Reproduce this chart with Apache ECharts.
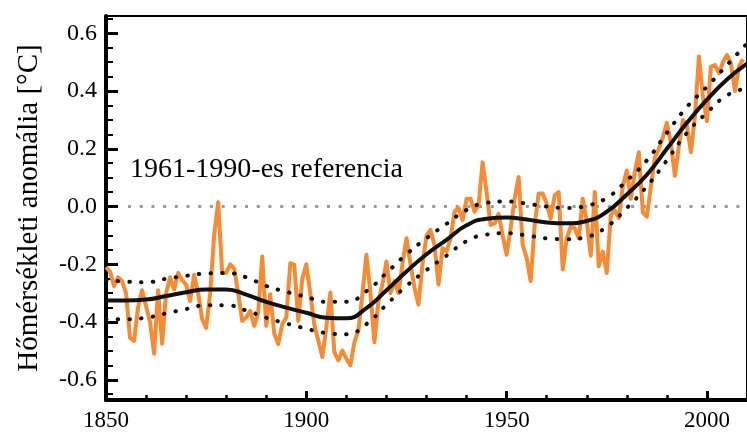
<!DOCTYPE html>
<html>
<head>
<meta charset="utf-8">
<script src="https://cdn.jsdelivr.net/npm/echarts@6/dist/echarts.min.js"></script>
<style>
  html, body { margin: 0; padding: 0; background: #fff; }
  #chart { width: 747px; height: 432px; }
</style>
</head>
<body>
<div id="chart"></div>
<script>
// yearly anomaly, 1850 .. 2009
var firstYear = 1850
var anomaly = [
  -0.21, -0.225, -0.275, -0.245, -0.258, -0.30, -0.455, -0.465, -0.35, -0.29,
  -0.345, -0.40, -0.51, -0.29, -0.475, -0.30, -0.245, -0.287, -0.23, -0.255,
  -0.27, -0.327, -0.236, -0.30, -0.39, -0.42, -0.30, -0.10, 0.015, -0.23,
  -0.23, -0.20, -0.215, -0.30, -0.396, -0.384, -0.361, -0.413, -0.367, -0.173,
  -0.413, -0.304, -0.441, -0.476, -0.407, -0.384, -0.196, -0.201, -0.396, -0.25,
  -0.20, -0.30, -0.41, -0.464, -0.521, -0.419, -0.298, -0.504, -0.533, -0.499,
  -0.527, -0.55, -0.47, -0.43, -0.304, -0.167, -0.30, -0.47, -0.327, -0.27,
  -0.19, -0.30, -0.258, -0.30, -0.20, -0.11, -0.20, -0.281, -0.339, -0.20,
  -0.10, -0.081, -0.133, -0.27, -0.144, -0.156, -0.11, -0.018, -0.005, -0.047,
  0.027, 0.027, -0.018, 0.005, 0.153, 0.05, -0.064, -0.058, -0.025, -0.10,
  -0.167, -0.075, 0.027, 0.102, -0.133, -0.178, -0.258, -0.064, 0.045, 0.045,
  0.01, -0.041, 0.039, 0.05, -0.218, -0.11, -0.07, -0.075, -0.11, 0.027,
  -0.05, -0.17, 0.05, -0.207, -0.156, -0.23, -0.03, -0.013, -0.04, 0.07,
  0.125, 0.027, 0.12, 0.188, -0.02, -0.035, 0.067, 0.17, 0.20, 0.24,
  0.29, 0.22, 0.107, 0.21, 0.30, 0.28, 0.188, 0.313, 0.52, 0.38,
  0.296, 0.485, 0.49, 0.462, 0.50, 0.525, 0.496, 0.40, 0.485, 0.51
]

// smoothed curve and its uncertainty band, read every 5 years
var smoothYears = [1850, 1855, 1860, 1865, 1870, 1875, 1880, 1885, 1890, 1895, 1900,
  1905, 1910, 1915, 1920, 1925, 1930, 1935, 1940, 1945, 1950, 1955, 1960,
  1965, 1970, 1975, 1980, 1985, 1990, 1995, 2000, 2005, 2010]
var smoothVals = [-0.325, -0.325, -0.322, -0.31, -0.297, -0.287, -0.287, -0.305, -0.33, -0.35, -0.368,
  -0.385, -0.387, -0.352, -0.29, -0.225, -0.165, -0.115, -0.065, -0.042, -0.038, -0.045, -0.055,
  -0.058, -0.05, -0.018, 0.042, 0.11, 0.2, 0.29, 0.37, 0.44, 0.495]
var upperVals = [-0.255, -0.26, -0.262, -0.25, -0.24, -0.232, -0.23, -0.245, -0.275, -0.295, -0.313,
  -0.33, -0.33, -0.293, -0.23, -0.165, -0.11, -0.06, -0.012, 0.013, 0.018, 0.01, 0.0,
  -0.005, 0.003, 0.03, 0.09, 0.16, 0.255, 0.345, 0.415, 0.49, 0.565]
var lowerVals = [-0.39, -0.39, -0.385, -0.37, -0.355, -0.342, -0.342, -0.36, -0.385, -0.405, -0.423,
  -0.438, -0.442, -0.407, -0.34, -0.275, -0.22, -0.17, -0.12, -0.097, -0.092, -0.1, -0.11,
  -0.113, -0.105, -0.07, -0.005, 0.07, 0.16, 0.255, 0.325, 0.385, 0.41]

// 1961-1990 reference (zero line)
var refYears = [1855.5, 2010]
var refVals = [0, 0]

var yMajor = [-0.6, -0.4, -0.2, 0.0, 0.2, 0.4, 0.6]
var yMinor = [-0.65, -0.55, -0.5, -0.45, -0.35, -0.3, -0.25, -0.15, -0.1, -0.05,
  0.05, 0.1, 0.15, 0.25, 0.3, 0.35, 0.45, 0.5, 0.55, 0.65]
var xMajor = [1850, 1900, 1950, 2000]
var xMinor = [1860, 1870, 1880, 1890, 1910, 1920, 1930, 1940, 1960, 1970, 1980, 1990, 2010]

var serif = '"Liberation Serif", serif'

function pairs(xs, ys) {
  return xs.map(function (x, i) { return [x, ys[i]] })
}
var yearly = anomaly.map(function (v, i) { return [firstYear + i, v] })

var chart = echarts.init(document.getElementById('chart'))
chart.setOption({
  animation: false,
  backgroundColor: '#fff',
  textStyle: { fontFamily: serif },
  grid: {
    left: 106, top: 16, width: 643, height: 387,
    show: true, borderColor: '#000', borderWidth: 2, backgroundColor: 'transparent'
  },
  xAxis: [
    {
      type: 'value', min: 1850, max: 2010,
      axisLine: { onZero: false, lineStyle: { color: '#000', width: 4 } },
      axisTick: { inside: true, length: 9, lineStyle: { color: '#000', width: 3 }, customValues: xMajor },
      axisLabel: {
        customValues: xMajor, margin: 9,
        formatter: function (v) { return '{t|' + v + '}' },
        rich: { t: { color: '#000', fontFamily: serif, fontSize: 23 } }
      },
      splitLine: { show: false }
    },
    {
      type: 'value', min: 1850, max: 2010, position: 'bottom',
      axisLine: { show: false, onZero: false },
      axisTick: { inside: true, length: 5, lineStyle: { color: '#000', width: 2.5 }, customValues: xMinor },
      axisLabel: { show: false },
      splitLine: { show: false }
    }
  ],
  yAxis: [
    {
      type: 'value', min: -0.67, max: 0.66,
      name: 'Hőmérsékleti anomália [°C]',
      nameLocation: 'middle', nameRotate: 90, nameGap: 62,
      nameTextStyle: { color: '#000', fontFamily: serif, fontSize: 29, fontWeight: 'normal' },
      axisLine: { onZero: false, lineStyle: { color: '#000', width: 4 } },
      axisTick: { inside: true, length: 12, lineStyle: { color: '#000', width: 3 }, customValues: yMajor },
      axisLabel: {
        customValues: yMajor, margin: 9,
        formatter: function (v) { return '{t|' + v.toFixed(1) + '}' },
        rich: { t: { color: '#000', fontFamily: serif, fontSize: 24 } }
      },
      splitLine: { show: false }
    },
    {
      type: 'value', min: -0.67, max: 0.66, position: 'left',
      axisLine: { show: false, onZero: false },
      axisTick: { inside: true, length: 7, lineStyle: { color: '#000', width: 2 }, customValues: yMinor },
      axisLabel: { show: false },
      splitLine: { show: false }
    }
  ],
  graphic: [
    {
      type: 'text', left: 130, top: 156,
      style: { text: '1961-1990-es referencia', font: '28px "Liberation Serif"', fill: '#000' }
    }
  ],
  series: [
    {
      name: 'referencia', type: 'line', data: pairs(refYears, refVals),
      symbol: 'none', silent: true,
      lineStyle: { color: '#9a9a9a', width: 3, type: [3, 8.7] }
    },
    {
      name: 'éves', type: 'line', data: yearly,
      symbol: 'none',
      lineStyle: { color: '#f68b33', width: 4, join: 'round' }
    },
    {
      name: 'felső', type: 'line', data: pairs(smoothYears, upperVals),
      symbol: 'none', smooth: 0.5, smoothMonotone: 'none',
      lineStyle: { color: '#111', width: 4, type: [0.5, 11.2], cap: 'round' }
    },
    {
      name: 'alsó', type: 'line', data: pairs(smoothYears, lowerVals),
      symbol: 'none', smooth: 0.5, smoothMonotone: 'none',
      lineStyle: { color: '#111', width: 4, type: [0.5, 11.2], cap: 'round' }
    },
    {
      name: 'simított', type: 'line', data: pairs(smoothYears, smoothVals),
      symbol: 'none', smooth: 0.5, smoothMonotone: 'none',
      lineStyle: { color: '#111', width: 4 }
    }
  ]
})
</script>
</body>
</html>
